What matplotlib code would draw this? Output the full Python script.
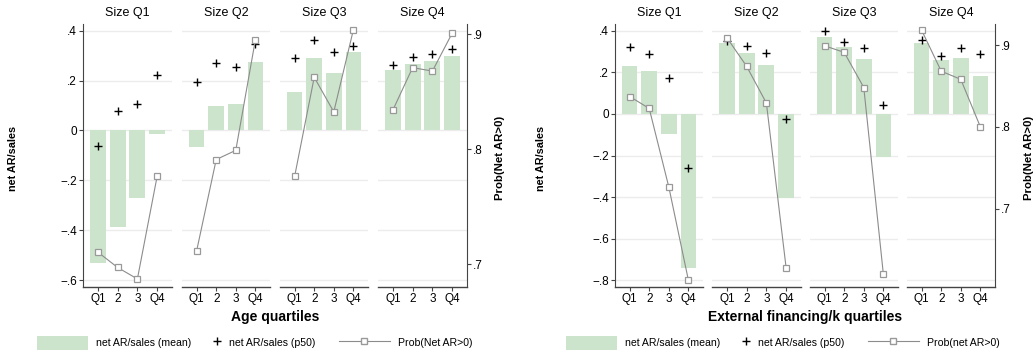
import matplotlib
matplotlib.use("Agg")
import matplotlib.pyplot as plt
from matplotlib.patches import Patch
from matplotlib.lines import Line2D

plt.rcParams['font.family'] = ['Liberation Sans', 'DejaVu Sans']

panels = ["Size Q1", "Size Q2", "Size Q3", "Size Q4"]
quartile_labels = ["Q1", "2", "3", "Q4"]

# Left chart: Age quartiles
age_mean = [[-0.531, -0.387, -0.270, -0.013],
            [-0.068, 0.098, 0.106, 0.274],
            [0.154, 0.290, 0.230, 0.314],
            [0.242, 0.268, 0.278, 0.298]]
age_p50 = [[-0.062, 0.078, 0.106, 0.222],
           [0.193, 0.270, 0.254, 0.345],
           [0.289, 0.362, 0.313, 0.337],
           [0.261, 0.293, 0.305, 0.325]]
age_prob = [[0.7104, 0.697, 0.687, 0.7765],
            [0.7116, 0.791, 0.799, 0.895],
            [0.7765, 0.8626, 0.8325, 0.9038],
            [0.834, 0.871, 0.868, 0.901]]

# Right chart: External financing/k quartiles
ext_mean = [[0.231, 0.204, -0.095, -0.741],
            [0.341, 0.294, 0.236, -0.402],
            [0.371, 0.323, 0.263, -0.209],
            [0.342, 0.260, 0.270, 0.182]]
ext_p50 = [[0.321, 0.289, 0.172, -0.262],
           [0.352, 0.324, 0.291, -0.024],
           [0.397, 0.347, 0.315, 0.045],
           [0.355, 0.278, 0.315, 0.289]]
ext_prob = [[0.837, 0.8224, 0.7265, 0.6127],
            [0.909, 0.874, 0.829, 0.627],
            [0.899, 0.891, 0.848, 0.620],
            [0.918, 0.868, 0.858, 0.800]]

W, H = 1035, 354
BAR = '#cce3cc'
GRID = '#ececec'
AXC = '#444444'
LINEC = '#8c8c8c'
LFS = 7.6

fig = plt.figure(figsize=(W / 100, H / 100), dpi=100)


def fmt(v):
    if abs(v) < 1e-9:
        return "0"
    s = ("%.1f" % abs(v)).lstrip("0")
    return ("\u2212" + s) if v < 0 else s


def add_leg(handle, label, x, hl, pad):
    leg = fig.legend([handle], [label], loc='center left',
                     bbox_to_anchor=(x / W, (H - 343) / H),
                     frameon=False, fontsize=LFS, handlelength=hl,
                     handleheight=1.7, handletextpad=pad,
                     borderaxespad=0, borderpad=0)
    return leg


def draw_chart(xedges, mean, p50, prob, ylim, yticks, y2lim, y2ticks,
               xlabel, ylab_x, y2lab_x, leg_xs, prob_label):
    top, bot = 24, 287
    x = [1, 2, 3, 4]
    for i, (l, r) in enumerate(xedges):
        ax = fig.add_axes([l / W, (H - bot) / H, (r - l) / W, (bot - top) / H])
        ax.set_xlim(0.25, 4.75)
        ax.set_ylim(*ylim)
        for t in yticks:
            ax.axhline(t, color=GRID, lw=1.0, zorder=0)
        ax.bar(x, mean[i], width=0.8, color=BAR, zorder=1)
        ax.plot(x, p50[i], linestyle='none', marker='+', color='black',
                markersize=6, markeredgewidth=1.0, zorder=3)
        ax.set_xticks(x)
        ax.set_xticklabels(quartile_labels, fontsize=8.5)
        ax.tick_params(axis='x', length=3, width=0.8, color=AXC, pad=1.5)
        for s in ['top', 'right']:
            ax.spines[s].set_visible(False)
        ax.spines['bottom'].set_color(AXC)
        ax.spines['bottom'].set_linewidth(1.0)
        if i == 0:
            ax.spines['left'].set_color(AXC)
            ax.set_yticks(yticks)
            ax.set_yticklabels([fmt(t) for t in yticks], fontsize=8.5)
            ax.tick_params(axis='y', length=3, width=0.8, color=AXC, pad=1.5)
        else:
            ax.spines['left'].set_visible(False)
            ax.set_yticks([])
        ax.set_title(panels[i], fontsize=9, pad=6)
        ax.patch.set_alpha(0)

        ax2 = ax.twinx()
        ax2.set_ylim(*y2lim)
        ax2.plot(x, prob[i], color=LINEC, lw=0.8, marker='s', markersize=5,
                 markerfacecolor='white', markeredgecolor='#999999',
                 markeredgewidth=0.9, zorder=4)
        for s in ['top', 'left', 'bottom']:
            ax2.spines[s].set_visible(False)
        if i == 3:
            ax2.spines['right'].set_color(AXC)
            ax2.set_yticks(y2ticks)
            ax2.set_yticklabels([fmt(t) for t in y2ticks], fontsize=8.5)
            ax2.tick_params(axis='y', length=3, width=0.8, color=AXC, pad=1.5)
        else:
            ax2.spines['right'].set_visible(False)
            ax2.set_yticks([])

    cx = (xedges[0][0] + xedges[3][1]) / 2
    fig.text(cx / W, (H - 317) / H, xlabel, ha='center', va='center',
             fontsize=10, fontweight='bold')
    fig.text(ylab_x / W, (H - 158) / H, "net AR/sales", rotation=90,
             ha='center', va='center', fontsize=7.8, fontweight='bold')
    fig.text(y2lab_x / W, (H - 158) / H, "Prob(Net AR>0)", rotation=90,
             ha='center', va='center', fontsize=8.2, fontweight='bold')

    h1 = Patch(facecolor=BAR, edgecolor='none')
    h2 = Line2D([], [], linestyle='none', marker='+', color='black',
                markersize=6)
    h3 = Line2D([], [], color=LINEC, lw=0.8, marker='s', markersize=5,
                markerfacecolor='white', markeredgecolor='#999999')
    add_leg(h1, "net AR/sales (mean)", leg_xs[0], 4.8, 0.75)
    add_leg(h2, "net AR/sales (p50)", leg_xs[1], 1.0, 0.6)
    add_leg(h3, prob_label, leg_xs[2], 4.8, 0.75)


draw_chart([(83, 172), (182, 270), (280, 368), (378, 467)],
           age_mean, age_p50, age_prob,
           (-0.628, 0.427), [-0.6, -0.4, -0.2, 0, 0.2, 0.4],
           (0.680, 0.909), [0.7, 0.8, 0.9],
           "Age quartiles", 13, 500, (37, 212, 339), "Prob(Net AR>0)")

draw_chart([(615, 703), (712, 801), (810, 898), (907, 995)],
           ext_mean, ext_p50, ext_prob,
           (-0.832, 0.432), [-0.8, -0.6, -0.4, -0.2, 0, 0.2, 0.4],
           (0.604, 0.9257), [0.7, 0.8, 0.9],
           "External financing/k quartiles", 541, 1029, (566, 741, 868),
           "Prob(net AR>0)")

fig.savefig("out.png", dpi=100)
